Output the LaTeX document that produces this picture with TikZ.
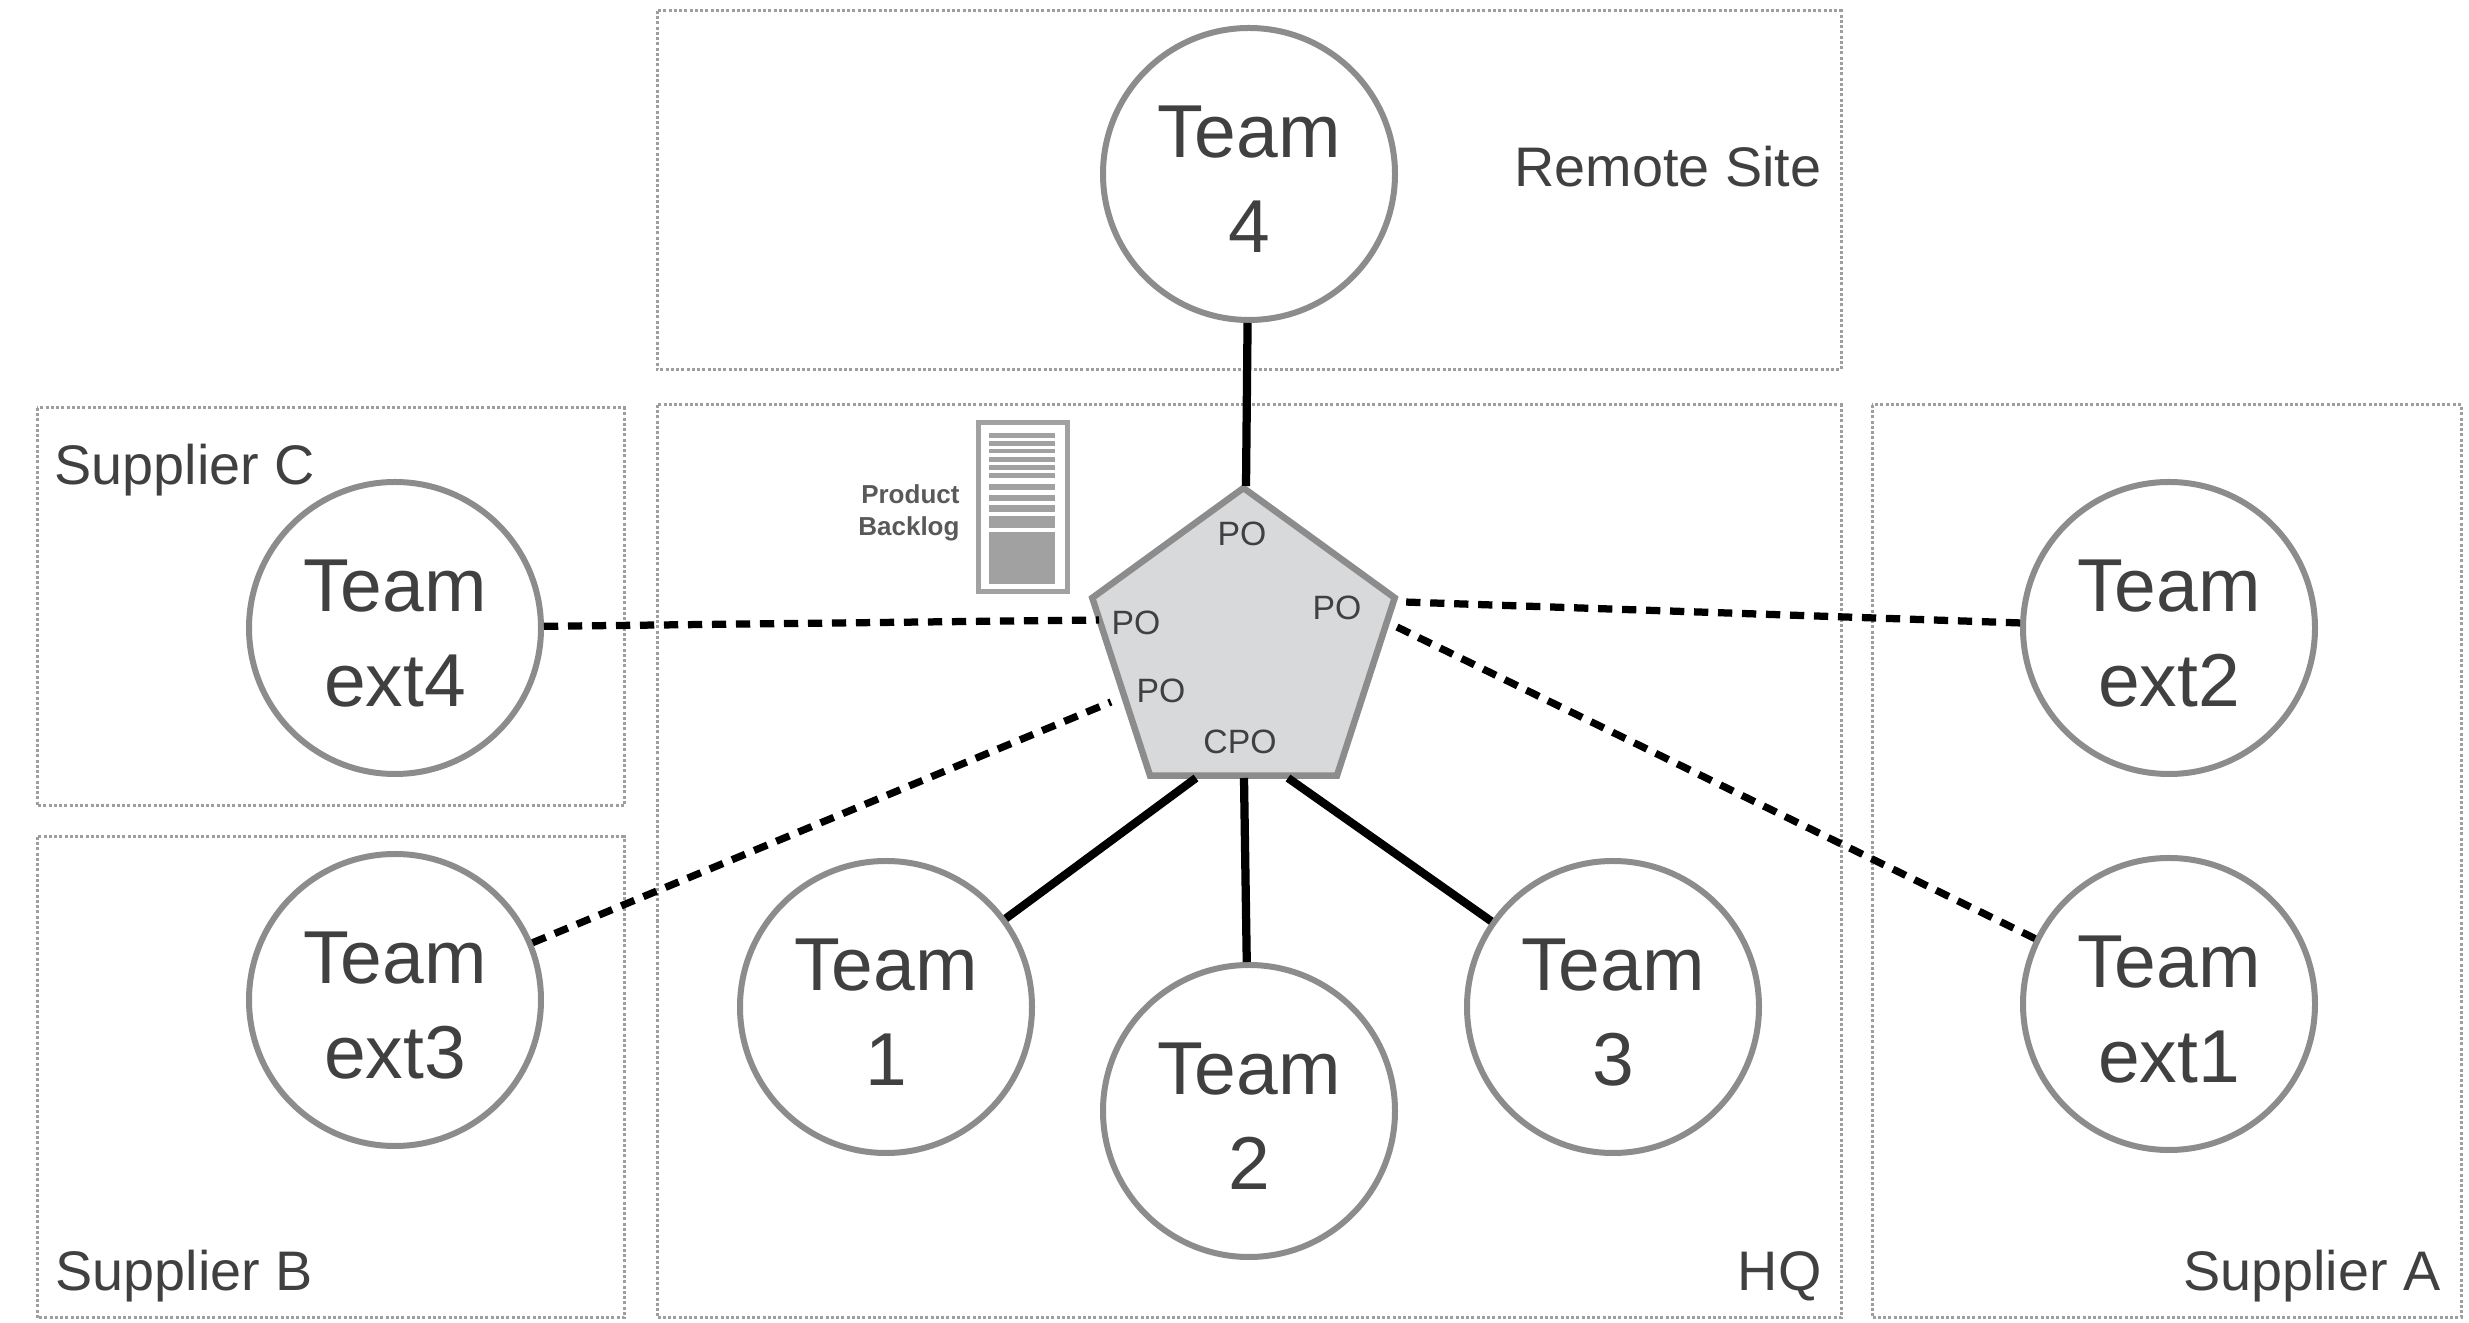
\documentclass[tikz,border=0pt]{standalone}
\usepackage{fontspec}
\setmainfont{Liberation Sans}
\usetikzlibrary{shapes.geometric}
\definecolor{txt}{gray}{0.25}
\definecolor{ring}{gray}{0.55}
\definecolor{dots}{gray}{0.62}
\definecolor{penta}{HTML}{D8D9DB}
\definecolor{bar}{gray}{0.63}
\tikzset{
  x=0.4pt,y=-0.4pt,
  zone/.style={draw=dots,line width=1.2pt,dash pattern=on 1.2pt off 0.9pt},
  team/.style={circle,draw=ring,line width=2.4pt,fill=white,minimum size=116.8pt,inner sep=0pt,
    align=center,text=txt,text height=63pt,font=\fontsize{30}{38}\selectfont},
  zonelabel/.style={inner sep=0pt,text=txt,font=\fontsize{22.3}{27}\selectfont},
  polabel/.style={anchor=base,inner sep=0pt,text=txt,font=\fontsize{13.5}{15}\selectfont},
  backloglabel/.style={anchor=base east,inner sep=0pt,text=black!65,font=\fontsize{10.4}{12}\selectfont\bfseries},
  solidlink/.style={draw=black,line width=3.3pt},
  dashlink/.style={draw=black,line width=2.9pt,dash pattern=on 5.7pt off 3.9pt},
  barfill/.style={fill=bar,draw=none}
}
\begin{document}
\begin{tikzpicture}
\useasboundingbox (0,0) rectangle (2469,1323);
% zones
\draw[zone] (657,11) rectangle (1841,370);
\draw[zone] (657,405) rectangle (1841,1318);
\draw[zone] (37,408) rectangle (624,806);
\draw[zone] (37,837) rectangle (624,1318);
\draw[zone] (1872,405) rectangle (2461,1318);
\node[zonelabel,anchor=base east] (lremote) at (1822,187) {Remote Site};
\node[zonelabel,anchor=base east] (lhq) at (1822,1291) {HQ};
\node[zonelabel,anchor=base east] (lsa) at (2441,1291) {Supplier A};
\node[zonelabel,anchor=base west] (lsb) at (55,1291) {Supplier B};
\node[zonelabel,anchor=base west] (lsc) at (54,485) {Supplier C};
% pentagon
\node[regular polygon,regular polygon sides=5,draw=ring,line width=2.6pt,fill=penta,
  minimum size=127.2pt,inner sep=0pt,outer sep=0pt] (pent) at (1243.5,647) {};
\node[polabel] (po1) at (1242,546) {PO};
\node[polabel] (po2) at (1337,620) {PO};
\node[polabel] (po3) at (1136,635) {PO};
\node[polabel] (po4) at (1161,703) {PO};
\node[polabel] (cpo) at (1240,754) {CPO};
% teams
\node[team] (t4) at (1249,174) {Team\\4};
\node[team] (t1) at (886,1007) {Team\\1};
\node[team] (t2) at (1249,1111) {Team\\2};
\node[team] (t3) at (1613,1007) {Team\\3};
\node[team] (e1) at (2169,1004) {Team\\ext1};
\node[team] (e2) at (2169,628) {Team\\ext2};
\node[team] (e3) at (395,1000) {Team\\ext3};
\node[team] (e4) at (395,628) {Team\\ext4};
% connector ends on the pentagon
\coordinate (pt) at (1246,486);
\coordinate (p1) at (1196,778);
\coordinate (p2) at (1244,778);
\coordinate (p3) at (1288,778);
\coordinate (pe4) at (1099,620);
\coordinate (pe3) at (1111,702);
\coordinate (pe2) at (1404,602);
\coordinate (pe1) at (1397,627);
\draw[solidlink] (t4) -- (pt);
\draw[solidlink] (t1) -- (p1);
\draw[solidlink] (t2) -- (p2);
\draw[solidlink] (t3) -- (p3);
\draw[dashlink] (e4) -- (pe4);
\draw[dashlink] (e3) -- (pe3);
\draw[dashlink] (e2) -- (pe2);
\draw[dashlink] (e1) -- (pe1);
% backlog
\node[draw=bar,line width=2pt,fill=white,minimum width=35.6pt,minimum height=67.6pt,inner sep=0pt] (blog) at (1022.5,507.5) {};
\foreach \a/\b in {433/438,441/446,449/453,457/462,465/470,473/478,484/490,495/501,505/512,516/528,532/584}
  \fill[barfill] (989,\a) rectangle (1055,\b);
\node[backloglabel] (lprod) at (960,504) {Product};
\node[backloglabel] (lback) at (960,536) {Backlog};
\end{tikzpicture}
\end{document}
